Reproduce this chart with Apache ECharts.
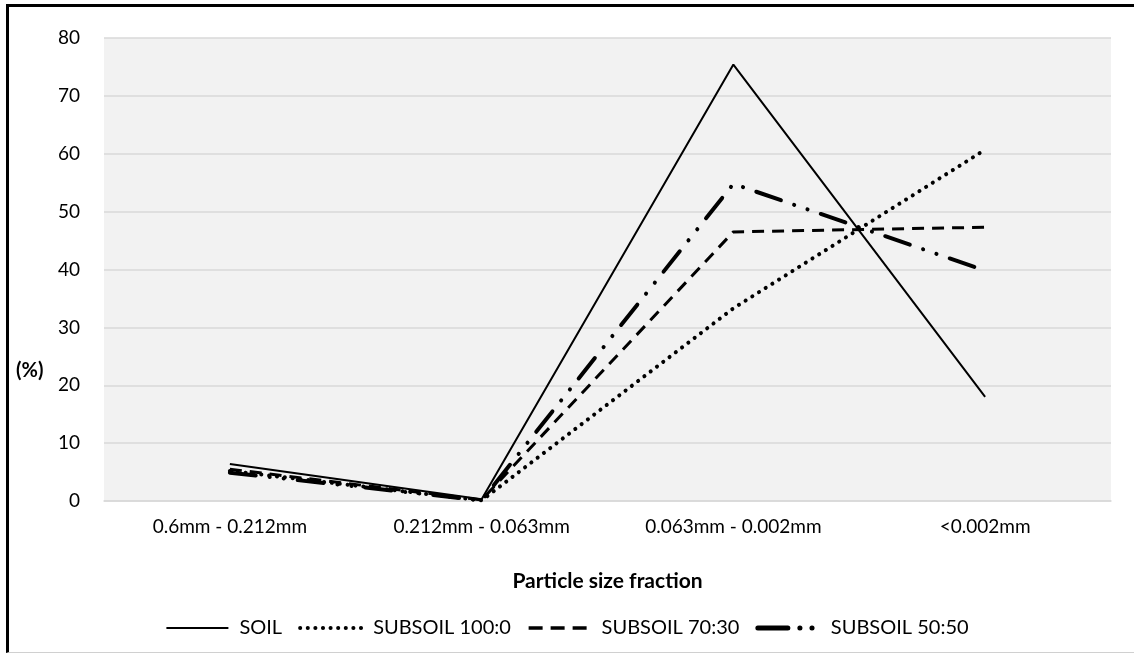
<!DOCTYPE html>
<html>
<head>
<meta charset="utf-8">
<script src="https://cdn.jsdelivr.net/npm/echarts@6/dist/echarts.min.js"></script>
<style>
  html, body { margin: 0; padding: 0; background: #fff; }
  #frame {
    position: absolute; left: 6px; top: 4px; width: 1128px; height: 649px;
    box-sizing: border-box;
    border-left: 3px solid #000; border-top: 3px solid #000;
    border-bottom: 1px solid #d0d0d0;
  }
  #chart { position: absolute; left: 0; top: 0; width: 1134px; height: 653px; }
</style>
</head>
<body>
<div id="frame"></div>
<div id="chart"></div>
<script>
// categories on the x axis
const fractions = ['0.6mm - 0.212mm', '0.212mm - 0.063mm', '0.063mm - 0.002mm', '<0.002mm']
// values (%)
const soil = [6.4, 0.3, 75.4, 18.0]
const subsoil100 = [5.2, 0.1, 33.3, 60.7]
const subsoil70 = [5.5, 0.2, 46.5, 47.3]
const subsoil50 = [4.9, 0.1, 54.8, 39.8]
const yTicks = { min: 0, max: 80, interval: 10 }

const font = 'Lato, "Open Sans", sans-serif'

const chart = echarts.init(document.getElementById('chart'), null, { renderer: 'canvas' })

function lineSeries (name, data, lineStyle) {
  return {
    name: name,
    type: 'line',
    data: data,
    symbol: 'none',
    lineStyle: Object.assign({ color: '#000' }, lineStyle),
    itemStyle: { color: '#000' },
    emphasis: { disabled: true },
    animation: false
  }
}

chart.setOption({
  backgroundColor: 'transparent',
  textStyle: { fontFamily: font },
  grid: {
    left: 104, right: 23, top: 38, bottom: 152,
    show: true, backgroundColor: '#f2f2f2', borderWidth: 0
  },
  legend: {
    bottom: 10,
    left: 'center',
    itemWidth: 62,
    itemHeight: 10,
    itemGap: 16,
    itemStyle: { opacity: 0 },
    textStyle: { fontFamily: font, fontSize: 20, color: '#000', padding: [0, 0, 0, 6] },
    data: [
      { name: 'SOIL', lineStyle: { width: 2, type: 'solid' } },
      { name: 'SUBSOIL 100:0', lineStyle: { width: 4, type: [0.1, 7.5], cap: 'round' } },
      { name: 'SUBSOIL 70:30', lineStyle: { width: 3.5, type: [14, 8] } },
      { name: 'SUBSOIL 50:50', lineStyle: { width: 5, type: [30, 12, 0.1, 12, 0.1, 100], cap: 'round' } }
    ]
  },
  xAxis: {
    type: 'category',
    data: fractions,
    boundaryGap: true,
    axisLine: { show: true, lineStyle: { color: '#d9d9d9', width: 1.5 } },
    axisTick: { show: false },
    axisLabel: { color: '#000', fontSize: 19, fontFamily: font, margin: 16 },
    name: 'Particle size fraction',
    nameLocation: 'middle',
    nameGap: 70,
    nameTextStyle: { color: '#000', fontSize: 21, fontWeight: 'bold', fontFamily: font }
  },
  yAxis: {
    type: 'value',
    min: yTicks.min, max: yTicks.max, interval: yTicks.interval,
    axisLine: { show: false },
    axisTick: { show: false },
    splitLine: { lineStyle: { color: '#d9d9d9', width: 1.5 } },
    axisLabel: { color: '#000', fontSize: 19, fontFamily: font, margin: 24 }
  },
  graphic: [{
    type: 'text',
    left: 16, top: 361,
    style: { text: '(%)', font: 'bold 20px ' + font, fill: '#000' }
  }],
  series: [
    lineSeries('SOIL', soil, { width: 2, type: 'solid' }),
    lineSeries('SUBSOIL 100:0', subsoil100, { width: 4, type: [0.1, 7.8], cap: 'round' }),
    lineSeries('SUBSOIL 70:30', subsoil70, { width: 3, type: [12, 8] }),
    lineSeries('SUBSOIL 50:50', subsoil50, { width: 4, type: [26, 14, 0.1, 14, 0.1, 14], cap: 'round' })
  ]
})
</script>
</body>
</html>
